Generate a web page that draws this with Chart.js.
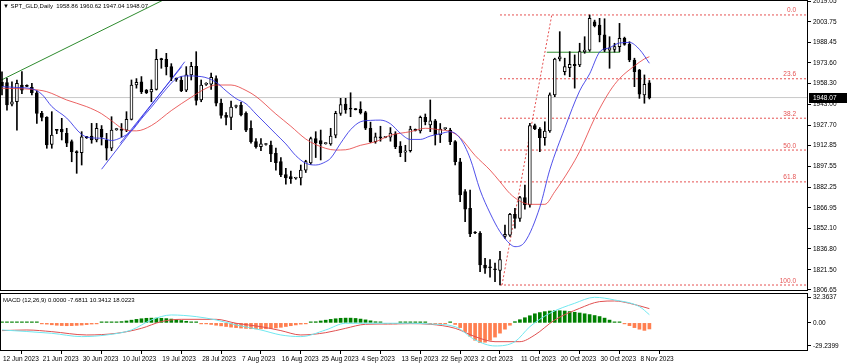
<!DOCTYPE html>
<html>
<head>
<meta charset="utf-8">
<script src="https://cdn.jsdelivr.net/npm/chart.js@4.4.0/dist/chart.umd.min.js"></script>
<style>
  html, body { margin: 0; padding: 0; background: #fff; }
  #wrap { position: relative; width: 850px; height: 364px; overflow: hidden; }
  canvas { position: absolute; left: 0; }
  #main { top: 0; }
  #macd { top: 290px; }
  .lbl { position: absolute; font: 6px 'Liberation Sans', Arial, sans-serif; color: #000; white-space: pre; }
</style>
</head>
<body>
<div id="wrap">
  <canvas id="main" width="850" height="300"></canvas>
  <canvas id="macd" width="850" height="74"></canvas>
  <div class="lbl" style="left:3px;top:3px;">▼ SPT_GLD,Daily  1958.86 1960.62 1947.04 1948.07</div>
  <div class="lbl" style="left:3px;top:297px;">MACD (12,26,9) 0.0000 -7.6811 10.3412 18.0223</div>
</div>
<script>
// ── Daily candles, bar index 0 = 12 Jun 2023 (Sunday bars included) ──
const opens = [
  1959.5,1959.0,1943.3,1945.0,1957.3,1956.8,1955.6,1951.6,1936.5,1933.5,
  1913.7,1924.2,1924.7,1921.8,1915.7,1908.3,1907.5,1919.0,1919.8,1916.9,
  1924.7,1916.9,1910.8,1924.5,1925.0,1924.2,1932.1,1957.3,1959.7,1953.6,
  1952.2,1954.1,1976.5,1976.2,1970.8,1962.0,1961.0,1953.5,1964.7,1971.0,
  1946.3,1957.8,1958.0,1962.0,1944.0,1935.0,1933.5,1941.5,1942.6,1936.5,
  1925.5,1915.7,1912.0,1913.6,1913.2,1907.0,1901.0,1891.5,1890.0,1888.8,
  1889.0,1894.8,1900.0,1918.0,1916.5,1914.2,1914.0,1920.5,1936.5,1943.3,
  1940.0,1939.5,1939.5,1937.0,1925.5,1915.7,1919.3,1918.8,1919.0,1921.5,
  1912.5,1908.0,1909.0,1924.5,1923.5,1933.5,1928.0,1931.0,1920.6,1925.2,
  1924.2,1915.7,1900.9,1878.9,1866.7,1848.8,1848.3,1825.0,1823.5,1822.0,
  1821.0,1846.0,1847.0,1862.3,1859.3,1874.5,1869.1,1927.4,1925.0,1918.6,
  1923.5,1950.0,1976.4,1967.1,1970.0,1972.5,1972.0,1981.8,1983.0,2003.8,
  2001.4,1994.1,1983.0,1983.5,1985.5,1991.6,1987.2,1975.7,1968.3,1950.0,
  1958.86
];
const highs = [
  1967.0,1962.2,1959.7,1961.0,1967.1,1957.5,1958.5,1953.0,1938.0,1934.0,
  1937.7,1924.6,1932.8,1925.5,1916.9,1909.0,1923.0,1919.5,1929.1,1929.1,
  1927.5,1921.8,1934.0,1925.5,1929.0,1937.7,1961.0,1962.0,1963.5,1954.0,
  1961.0,1983.5,1977.0,1980.6,1973.0,1962.5,1963.4,1970.8,1974.0,1981.8,
  1961.0,1959.0,1966.0,1964.0,1947.0,1937.0,1945.5,1942.5,1944.5,1937.5,
  1931.0,1918.0,1918.0,1914.5,1916.0,1911.0,1904.0,1896.0,1894.0,1889.5,
  1898.5,1902.0,1919.0,1923.0,1924.2,1915.0,1925.5,1938.0,1947.5,1947.5,
  1951.6,1940.0,1945.0,1938.0,1930.0,1922.0,1927.0,1919.5,1926.0,1923.0,
  1915.7,1913.0,1927.0,1925.0,1934.5,1936.0,1946.3,1932.0,1929.0,1925.8,
  1925.5,1916.5,1903.4,1880.5,1880.0,1849.5,1849.5,1829.9,1829.0,1826.5,
  1835.0,1854.4,1863.0,1866.7,1875.5,1883.8,1929.1,1928.5,1926.0,1930.3,
  1951.5,1977.0,1996.5,1977.0,1981.8,1979.4,1988.0,1992.8,2008.8,2005.0,
  2006.3,2006.0,1992.8,1988.0,2002.6,1992.5,1989.1,1977.0,1968.8,1964.7,
  1960.62
];
const lows = [
  1950.0,1938.9,1942.0,1924.2,1951.0,1956.0,1950.0,1929.1,1931.0,1910.8,
  1910.8,1921.5,1916.9,1912.0,1900.9,1892.4,1898.5,1918.0,1914.5,1915.5,
  1913.2,1902.2,1909.0,1924.0,1919.0,1923.0,1931.6,1955.0,1951.0,1951.0,
  1945.0,1953.6,1969.6,1964.7,1960.5,1960.0,1952.4,1952.4,1961.0,1942.6,
  1945.0,1957.0,1954.0,1942.0,1933.0,1928.0,1924.5,1940.5,1934.5,1923.0,
  1914.5,1910.8,1909.0,1913.0,1900.9,1894.8,1889.9,1884.5,1885.0,1888.0,
  1883.8,1893.0,1899.0,1904.0,1902.2,1913.8,1913.0,1918.5,1935.0,1936.5,
  1934.0,1939.0,1936.0,1924.5,1915.0,1914.5,1916.0,1918.5,1916.0,1910.5,
  1904.6,1901.0,1908.0,1923.5,1922.0,1928.0,1923.0,1913.2,1915.0,1924.5,
  1913.5,1898.5,1871.5,1856.9,1845.8,1848.0,1820.1,1818.9,1816.0,1812.7,
  1810.3,1844.6,1846.0,1852.0,1857.0,1866.0,1867.5,1924.5,1908.3,1913.0,
  1922.5,1948.7,1975.0,1964.7,1963.4,1955.0,1970.8,1980.6,1982.0,2000.0,
  1989.0,1981.8,1969.6,1981.5,1981.8,1986.5,1974.4,1956.1,1947.5,1943.9,
  1947.04
];
const closes = [
  1956.5,1942.6,1945.0,1958.5,1953.6,1956.3,1951.6,1936.5,1933.5,1913.2,
  1920.5,1924.0,1922.8,1914.5,1908.3,1907.5,1919.3,1918.6,1916.9,1925.5,
  1918.9,1910.8,1924.2,1925.0,1924.0,1932.1,1957.3,1959.3,1952.4,1951.6,
  1954.1,1976.2,1976.0,1970.8,1963.0,1961.5,1953.1,1964.7,1971.0,1946.0,
  1957.3,1958.3,1963.0,1944.0,1935.0,1933.5,1941.0,1942.0,1935.3,1924.2,
  1915.7,1912.0,1914.0,1914.2,1906.6,1900.2,1891.2,1889.0,1888.5,1889.2,
  1894.8,1901.0,1918.0,1915.0,1914.0,1914.6,1919.8,1936.5,1943.0,1939.0,
  1939.5,1939.2,1937.0,1925.5,1915.7,1919.3,1918.5,1919.0,1922.0,1912.0,
  1907.6,1909.0,1925.0,1924.0,1933.5,1930.3,1931.0,1920.6,1925.0,1925.5,
  1915.7,1900.9,1876.5,1866.0,1847.8,1848.5,1825.0,1822.6,1823.0,1821.5,
  1829.0,1847.5,1862.3,1859.3,1874.5,1869.1,1927.4,1925.0,1918.6,1923.5,
  1950.0,1976.4,1978.0,1970.8,1972.5,1971.5,1981.8,1983.0,2006.3,2001.0,
  1994.1,1983.0,1984.7,1985.5,1991.6,1987.2,1975.7,1967.1,1950.5,1957.8,
  1948.07
];

// moving averages (bar index -> price)
const fastIdx = [0,3,6,8,10,13,16,18,20,22,24,26,28,30,33,35,37,40,43,45,47,49,51,53,55,57,59,61,63,65,66,68,70,72,74,76,78,80,82,84,86,88,90,92,94,96,98,100,102,103,105,108,110,113,116,118,120,122,124,126,128,130];
const fastMA  = [1956.1,1955.5,1954.5,1950.5,1941.5,1933.0,1921.0,1918.4,1918.2,1916.5,1918.8,1923.5,1932.5,1941.0,1954.5,1962.0,1964.0,1963.5,1959.3,1953.0,1947.3,1943.5,1936.0,1928.7,1921.3,1914.0,1905.4,1899.8,1898.5,1900.9,1903.5,1914.5,1924.5,1930.3,1931.3,1931.5,1928.8,1921.8,1917.3,1917.3,1919.8,1921.5,1923.0,1918.1,1903.4,1880.1,1863.2,1849.5,1840.5,1838.5,1842.0,1867.5,1895.0,1925.5,1953.0,1965.5,1981.5,1984.7,1988.2,1988.6,1983.5,1973.3];
const slowIdx = [0,6,9,13,17,20,22,25,27,30,34,38,41,43,46,49,51,55,58,61,63,67,69,72,75,78,82,85,88,90,92,95,98,100,102,104,106,109,111,114,116,119,122,124,127,129,130];
const slowMA  = [1954.9,1954.1,1952.4,1946.3,1941.4,1936.2,1931.0,1924.0,1923.6,1927.5,1938.5,1948.3,1954.9,1957.3,1957.3,1953.3,1948.9,1936.0,1927.0,1917.6,1913.5,1909.5,1909.7,1913.0,1915.6,1920.4,1923.0,1925.5,1924.3,1923.2,1918.6,1905.5,1894.8,1886.2,1877.5,1872.0,1869.6,1869.6,1878.9,1895.5,1908.5,1932.8,1952.5,1962.0,1971.3,1976.5,1978.1];

// fibonacci retracement
const fibLabels = ['0.0', '23.6', '38.2', '50.0', '61.8', '100.0'];
const fibPrices = [2008.8, 1961.9, 1932.9, 1909.5, 1886.1, 1810.3];

const priceTicks = [2019.05, 2003.75, 1988.45, 1973.60, 1958.30, 1943.00, 1927.70, 1912.85, 1897.55, 1882.25, 1866.95, 1852.10, 1836.80, 1821.50, 1806.65];
const lastPrice = 1948.07;

// MACD panel
const macdHist = [
  0.8,0.9,0.8,1.0,0.9,0.7,0.6,0.3,-0.8,-1.6,
  -2.4,-3.0,-3.4,-3.6,-3.5,-3.2,-2.8,-2.2,-1.5,-0.6,
  0.2,0.6,0.9,1.2,1.6,2.4,3.4,4.4,5.2,5.8,
  6.0,6.0,5.8,5.4,4.8,4.0,3.0,2.0,1.0,0.3,
  -0.4,-1.2,-2.0,-3.0,-3.8,-4.6,-5.4,-6.0,-6.6,-7.0,
  -7.4,-7.6,-7.6,-7.4,-7.0,-6.4,-5.6,-4.6,-3.6,-2.6,
  -1.6,-0.6,0.4,1.4,2.4,3.4,4.4,5.2,5.8,6.0,
  6.0,5.6,4.8,3.8,2.6,1.4,0.4,-0.4,-0.8,-0.6,
  0.3,0.8,1.0,0.9,0.6,0.3,-0.3,-0.8,-0.6,-0.2,
  0.2,-2.0,-6.0,-11.0,-17.0,-22.0,-25.0,-24.5,-22.0,-18.0,
  -13.0,-8.0,-3.0,1.5,4.0,6.5,9.0,11.5,13.0,14.2,
  15.0,15.4,15.4,15.0,14.3,13.4,12.5,11.5,10.5,9.3,
  8.0,6.0,3.5,1.2,0.4,-0.5,-3.5,-6.0,-8.0,-9.5,
  -7.68
];
const macdIdx = [0,10,16,21,26,30,34,39,43,47,52,56,60,65,69,73,78,82,86,91,95,99,103,106,110,115,119,123,128,130];
const macdLine = [-9.0,-13.2,-17.4,-15.3,-9.0,3.7,10.0,7.9,3.7,-2.6,-9.0,-15.3,-17.4,-9.0,-0.5,-0.5,-0.5,-0.5,-1.4,-4.8,-21.6,-29.2,-23.8,-4.8,12.1,24.8,32.36,29.0,20.6,10.34];
const sigIdx  = [0,5,10,17,23,28,32,36,43,47,52,56,60,65,69,73,78,82,86,91,95,99,104,107,111,116,120,123,126,130];
const sigLine = [-9.8,-9.0,-11.1,-15.3,-13.2,-6.9,1.6,4.5,4.5,-0.5,-4.8,-9.8,-15.3,-12.4,-6.9,-1.8,-1.4,-1.0,-1.8,-6.9,-17.4,-23.8,-23.8,-15.3,3.7,18.4,26.9,27.7,24.8,18.02];
const macdTicks = [32.3637, 0, -29.2399];
const macdTickText = ['32.3637', '0.00', '-29.2399'];

const timeLabels = ['12 Jun 2023','21 Jun 2023','30 Jun 2023','10 Jul 2023','19 Jul 2023','28 Jul 2023','7 Aug 2023','16 Aug 2023','25 Aug 2023','4 Sep 2023','13 Sep 2023','22 Sep 2023','2 Oct 2023','11 Oct 2023','20 Oct 2023','30 Oct 2023','8 Nov 2023'];

const X_MIN = -0.4, X_MAX = 161.85;
const FONT = "'Liberation Sans', Arial, sans-serif";
const FIB_RED = 'rgba(225,50,50,0.85)';

const pts = (xs, ys) => xs.map((x, i) => ({ x, y: ys[i] }));
const seg = (x0, y0, x1, y1) => [{ x: x0, y: y0 }, { x: x1, y: y1 }];

// no label padding: the plot has to fill its box exactly, like the terminal does
const noPad = s => { s.paddingTop = 0; s.paddingBottom = 0; s.paddingLeft = 0; s.paddingRight = 0; };

// thin black frame around the plot area
const frame = {
  id: 'frame',
  afterDraw(chart) {
    const { ctx, chartArea: a } = chart;
    ctx.save();
    ctx.strokeStyle = '#000';
    ctx.lineWidth = 1;
    ctx.strokeRect(a.left + 0.5, a.top + 0.5, a.right - a.left - 1, a.bottom - a.top - 1);
    ctx.restore();
  }
};

// fibo labels + current price box
const extras = {
  id: 'extras',
  afterDraw(chart) {
    const { ctx, chartArea: a } = chart;
    const y = chart.scales.y;
    ctx.save();
    ctx.font = `6.5px ${FONT}`;
    ctx.fillStyle = FIB_RED;
    ctx.textAlign = 'right';
    ctx.textBaseline = 'bottom';
    fibLabels.forEach((t, i) => ctx.fillText(t, 796, y.getPixelForValue(fibPrices[i]) - 1));
    const py = Math.round(y.getPixelForValue(lastPrice));
    ctx.fillStyle = '#000';
    ctx.fillRect(a.right + 1, py - 5, 38, 10);
    ctx.fillStyle = '#fff';
    ctx.textAlign = 'left';
    ctx.textBaseline = 'middle';
    ctx.fillText(lastPrice.toFixed(2), a.right + 5, py);
    ctx.restore();
  }
};

const lineDs = (data, color, extra = {}) => Object.assign({
  type: 'line', data, borderColor: color, borderWidth: 1, pointRadius: 0, fill: false, order: 3
}, extra);

const datasets = [
  lineDs(pts(fastIdx, fastMA), 'rgba(50,50,230,0.85)', { cubicInterpolationMode: 'monotone', order: 0 }),
  lineDs(pts(slowIdx, slowMA), 'rgba(230,60,60,0.8)', { cubicInterpolationMode: 'monotone', order: 0 }),
  {
    type: 'bar',
    data: opens.map((o, i) => ({ x: i, y: [o, closes[i]] })),
    backgroundColor: opens.map((o, i) => closes[i] >= o ? '#fff' : '#000'),
    borderColor: '#000', borderWidth: 1, borderSkipped: false,
    barThickness: 3, minBarLength: 1, grouped: false, order: 1,
  },
  {
    type: 'bar',
    data: lows.map((l, i) => ({ x: i, y: [l, highs[i]] })),
    backgroundColor: '#000', barThickness: 1, grouped: false, order: 2,
  },
  lineDs(seg(X_MIN - 1, lastPrice, X_MAX + 1, lastPrice), '#c8c8c8', { order: 5 }),
  lineDs(seg(-1, 1959.4, 33, 2020.9), '#2e8b2e'),
  lineDs(seg(109.4, 1981.4, 124.1, 1981.4), '#2e8b2e'),
  lineDs(seg(20.0, 1895.4, 36.7, 1974.4), 'rgba(50,50,230,0.85)'),
  lineDs(seg(23.7, 1914.4, 36.1, 1970.8), 'rgba(50,50,230,0.85)'),
  lineDs(seg(100.4, 1810.3, 110.4, 2008.8), FIB_RED, { borderDash: [2, 2] }),
  ...fibPrices.map(p => lineDs(seg(100, p, X_MAX + 1, p), FIB_RED, { borderDash: [2, 2] })),
];

new Chart(document.getElementById('main'), {
  type: 'bar',
  data: { datasets },
  options: {
    responsive: false,
    animation: false,
    devicePixelRatio: 1,
    layout: { padding: { top: 0, bottom: 9, left: 0, right: 0 } },
    plugins: { legend: { display: false }, tooltip: { enabled: false } },
    scales: {
      x: { type: 'linear', min: X_MIN, max: X_MAX, offset: false, display: false },
      y: {
        position: 'right',
        min: 1805.9, max: 2019.785,
        afterBuildTicks: s => { s.ticks = priceTicks.map(v => ({ value: v })); },
        afterFit: s => { s.width = 42; noPad(s); },
        ticks: { callback: v => v.toFixed(2), color: '#000', font: { family: FONT, size: 6.5 }, padding: 2, autoSkip: false },
        grid: { drawOnChartArea: false, drawTicks: true, tickLength: 3, tickColor: '#000' },
        border: { display: false },
      },
    },
  },
  plugins: [frame, extras],
});

// ── MACD ──
new Chart(document.getElementById('macd'), {
  type: 'bar',
  data: {
    datasets: [
      lineDs(pts(macdIdx, macdLine), '#70e8f0', { cubicInterpolationMode: 'monotone', order: 0 }),
      lineDs(pts(sigIdx, sigLine), '#e05050', { cubicInterpolationMode: 'monotone', order: 0 }),
      {
        type: 'bar',
        data: macdHist.map((v, i) => ({ x: i, y: v })),
        backgroundColor: macdHist.map(v => v >= 0 ? '#008000' : '#ff7f50'),
        barThickness: 3, minBarLength: 1, grouped: false, order: 1,
      },
    ],
  },
  options: {
    responsive: false,
    animation: false,
    devicePixelRatio: 1,
    layout: { padding: { top: 3, bottom: 0, left: 0, right: 0 } },
    plugins: { legend: { display: false }, tooltip: { enabled: false } },
    scales: {
      x: {
        type: 'linear', min: X_MIN, max: X_MAX, offset: false,
        afterBuildTicks: s => { s.ticks = timeLabels.map((_, i) => ({ value: i * 8 })); },
        afterFit: s => { s.height = 13; noPad(s); },
        ticks: {
          callback: v => timeLabels[v / 8] ?? '',
          color: '#000', font: { family: FONT, size: 6.5 }, align: 'start',
          maxRotation: 0, autoSkip: false, padding: 1, labelOffset: 1,
        },
        grid: { drawOnChartArea: false, drawTicks: true, tickLength: 3, tickColor: '#000' },
        border: { display: false },
      },
      y: {
        position: 'right',
        min: -35.6, max: 37.8,
        afterBuildTicks: s => { s.ticks = macdTicks.map(v => ({ value: v })); },
        afterFit: s => { s.width = 42; noPad(s); },
        ticks: {
          callback: v => macdTickText[macdTicks.indexOf(v)] ?? '',
          color: '#000', font: { family: FONT, size: 6.5 }, padding: 2, autoSkip: false,
        },
        grid: { drawOnChartArea: false, drawTicks: true, tickLength: 3, tickColor: '#000' },
        border: { display: false },
      },
    },
  },
  plugins: [frame],
});
</script>
</body>
</html>
